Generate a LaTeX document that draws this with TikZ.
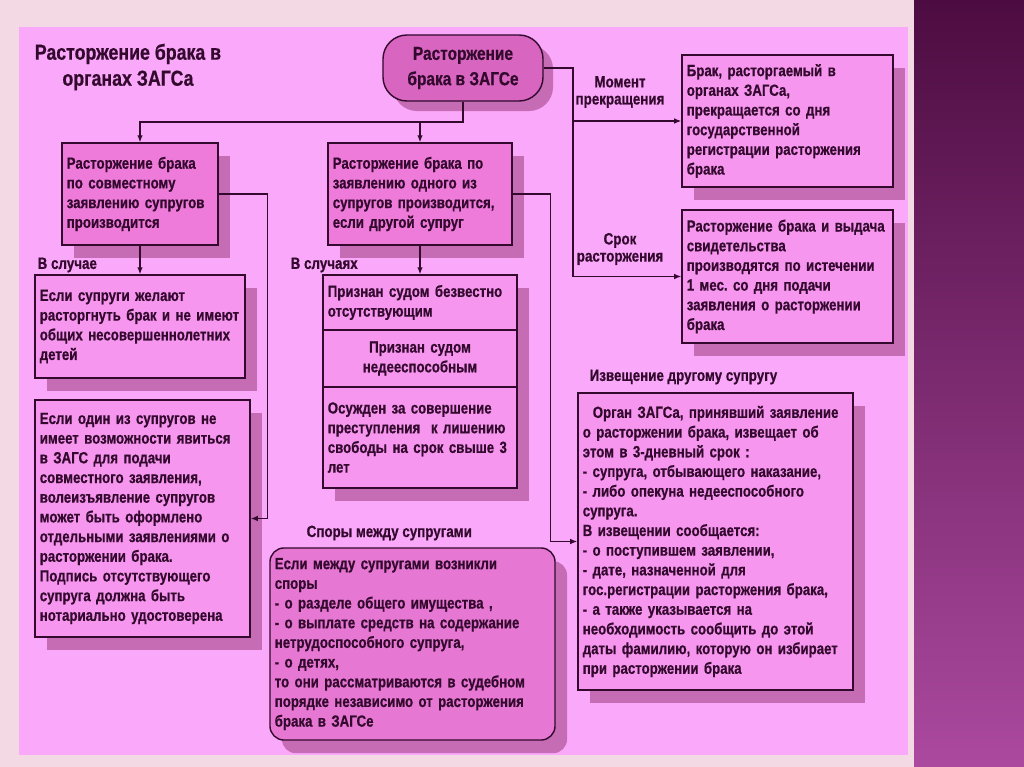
\documentclass[tikz,border=0pt]{standalone}
\usepackage{fontspec}
\setmainfont{Liberation Sans}[FakeStretch=0.82,BoldFeatures={FakeBold=0.6}]
\usetikzlibrary{arrows.meta,positioning,calc,shadows}
\definecolor{Ink}{HTML}{33092E}
\definecolor{Slide}{HTML}{F3D9E4}
\definecolor{Field}{HTML}{FAA8F9}
\definecolor{BoxFill}{HTML}{F796EF}
\definecolor{BoxDeep}{HTML}{EE7BD9}
\definecolor{PillFill}{HTML}{D865BF}
\definecolor{NoteFill}{HTML}{E677D2}
\definecolor{Shade}{HTML}{C56CB4}
\definecolor{StripTop}{HTML}{4D0C41}
\definecolor{StripBot}{HTML}{AB499F}
\frenchspacing

\begin{document}
\begin{tikzpicture}[x=0.025cm,y=-0.025cm,
  txt/.style={font=\bfseries\fontsize{11.5}{14}\selectfont,text=Ink},
  tag/.style={font=\bfseries\fontsize{11.6}{12.2}\selectfont,text=Ink,inner sep=1pt},
  card/.style 2 args={txt,draw=Ink,line width=1pt,fill=BoxFill,align=left,inner xsep=0.12cm,
    text width=#1,minimum height=#2,drop shadow={shadow xshift=0.3cm,shadow yshift=-0.33cm,fill=Shade,opacity=1}},
  pill/.style={font=\bfseries\fontsize{13.4}{18}\selectfont,text=Ink,draw=Ink,line width=1pt,fill=PillFill,
    rounded corners=0.6cm,align=center,drop shadow={shadow xshift=0.25cm,shadow yshift=-0.25cm,fill=Shade,opacity=1}},
  link/.style={draw=Ink,line width=0.9pt},
  arr/.style={link,-{Latex[length=5pt,width=4pt]}}]
\useasboundingbox (0,0) rectangle (1024,767);
% slide background
\fill[Slide] (0,0) rectangle (1024,767);
\fill[Field] (19,27) rectangle (908,755);
\shade[top color=StripTop,bottom color=StripBot] (914,0) rectangle (1024,767);
\node[font=\bfseries\fontsize{15.4}{18.5}\selectfont,text=Ink,align=center] (heading) at (128,67) {Расторжение брака в\\органах ЗАГСа};
% main blocks
\node[pill,minimum width=4cm,minimum height=1.65cm] (top) at (463,68) {Расторжение\\брака в ЗАГСе};
\node[card={3.66cm}{2.55cm},fill=BoxDeep] (joint) at (140,194) {Расторжение брака\\по совместному\\заявлению супругов\\производится};
\node[card={4.36cm}{2.55cm},fill=BoxDeep] (single) at (420,194) {Расторжение брака по\\заявлению одного из\\супругов производится,\\если другой супруг};
\node[card={5.01cm}{2.575cm}] (wish) at (140,326.5) {Если супруги желают\\расторгнуть~брак~и~не~имеют\\общих несовершеннолетних\\детей};
\node[card={5.135cm}{5.925cm}] (absent) at (142.5,518.5) {Если один из супругов не\\имеет возможности явиться\\в ЗАГС для подачи\\совместного заявления,\\волеизъявление супругов\\может быть оформлено\\отдельными заявлениями о\\расторжении брака.\\Подпись отсутствующего\\супруга должна быть\\нотариально удостоверена};
\node[card={4.61cm}{1.375cm}] (caseA) at (420,302.5) {Признан судом безвестно\\отсутствующим};
\node[card={4.61cm}{1.425cm},align=center] (caseB) at (420,358.5) {Признан судом\\недееспособным};
\node[card={4.61cm}{2.525cm}] (caseC) at (420,437.5) {Осужден за совершение\\преступления~ к лишению\\свободы на срок свыше 3\\лет};
\node[card={5.035cm}{3.3cm}] (moment) at (787.5,121) {Брак, расторгаемый в\\органах ЗАГСа,\\прекращается со дня\\государственной\\регистрации расторжения\\брака};
\node[card={5.035cm}{3.325cm}] (term) at (787.5,276.5) {Расторжение~брака~и~выдача\\свидетельства\\производятся по истечении\\1 мес. со дня подачи\\заявления о расторжении\\брака};
\node[card={6.635cm}{7.425cm}] (notice) at (715.5,541.5) {\hspace*{0.25cm}Орган ЗАГСа, принявший заявление\\о расторжении брака, извещает об\\этом в 3-дневный срок :\\- супруга, отбывающего наказание,\\- либо опекуна недееспособного\\супруга.\\В извещении сообщается:\\- о поступившем заявлении,\\- дате, назначенной для\\гос.регистрации расторжения брака,\\- а также указывается на\\необходимость сообщить до этой\\даты фамилию, которую он избирает\\при расторжении брака};
\node[card={6.885cm}{4.8cm},fill=NoteFill,rounded corners=0.35cm] (dispute) at (412.5,644) {Если между супругами возникли\\споры\\- о разделе общего имущества ,\\- о выплате средств на содержание\\нетрудоспособного супруга,\\- о детях,\\то они рассматриваются в судебном\\порядке независимо от расторжения\\брака в ЗАГСе};
% labels
\node[tag,anchor=west] (caseLbl) at (36,265) {В случае};
\node[tag,anchor=west] (casesLbl) at (289,265) {В случаях};
\node[tag,align=center] (momentLbl) at (620,92) {Момент\\прекращения};
\node[tag,align=center] (termLbl) at (620,249) {Срок\\расторжения};
\node[tag,anchor=west] (noticeLbl) at (588,377) {Извещение другому супругу};
\node[tag,anchor=west] (disputeLbl) at (305,533) {Споры между супругами};
% connectors
\coordinate (split) at (463,122);
\coordinate (rail) at (573,68);
\draw[arr] (top.south) -- (split) -| (joint.north);
\draw[arr] (single.north |- split) -- (single.north);
\draw[arr] (top.east) -- (rail) |- (term.west);
\draw[arr] (rail |- moment.west) -- (moment.west);
\draw[arr] (joint.south) -- (wish.north);
\draw[arr] (joint.east) -- ++(49,0) |- (absent.east);
\draw[arr] (single.south) -- (caseA.north);
\draw[arr] (single.east) -- ++(38,0) |- (notice.west);
\end{tikzpicture}
\end{document}
